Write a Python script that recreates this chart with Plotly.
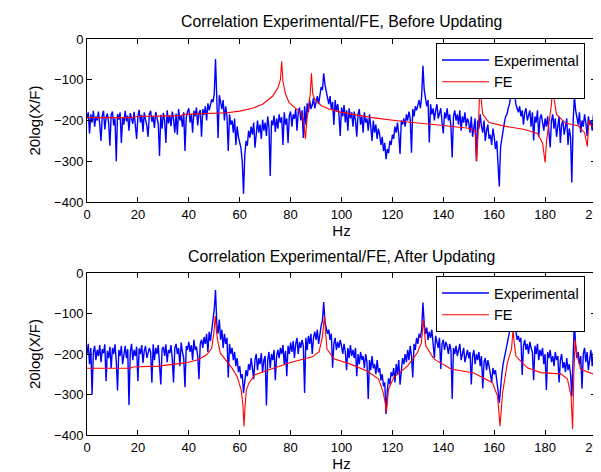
import plotly.graph_objects as go

# ---------------- data ----------------
# experimental FRF sampled every 0.5 Hz from 0 to 200 Hz
freq_exp = [i * 0.5 for i in range(401)]

exp_before = [
    -195, -180, -232, -185, -205, -176, -215, -190, -200, -178,   # 0-4.5
    -210, -250, -188, -176, -222, -192, -183, -205, -262, -186,   # 5-9.5
    -178, -212, -195, -300, -184, -198, -180, -255, -193, -210,   # 10-14.5
    -176, -202, -188, -225, -182, -196, -208, -179, -214, -245,   # 15-19.5
    -190, -174, -205, -186, -228, -180, -198, -212, -240, -184,   # 20-24.5
    -176, -203, -190, -218, -179, -195, -209, -287, -186, -220,   # 25-29.5
    -181, -198, -255, -175, -207, -188, -214, -178, -196, -230,   # 30-34.5
    -183, -235, -172, -200, -189, -216, -180, -275, -192, -178,   # 35-39.5
    -170, -205, -184, -230, -176, -190, -168, -212, -182, -174,   # 40-44.5
    -240, -172, -186, -165, -200, -158, -175, -162, -148, -155,   # 45-49.5
    -135, -49, -150, -243, -138, -160, -172, -150, -200, -165,    # 50-54.5
    -190, -275, -185, -210, -200, -230, -195, -260, -215, -240,   # 55-59.5
    -255, -268, -300, -380, -285, -250, -262, -225, -242, -215,   # 60-64.5
    -235, -205, -267, -220, -200, -230, -210, -245, -198, -225,   # 65-69.5
    -205, -238, -190, -218, -336, -200, -212, -188, -228, -195,   # 70-74.5
    -220, -185, -205, -192, -260, -180, -210, -195, -255, -188,   # 75-79.5
    -178, -215, -185, -196, -172, -225, -180, -168, -200, -175,   # 80-84.5
    -243, -165, -210, -158, -180, -150, -172, -162, -145, -170,   # 85-89.5
    -150, -140, -160, -132, -118, -125, -84, -112, -130, -145,    # 90-94.5
    -160, -140, -172, -155, -211, -150, -178, -160, -185, -238,   # 95-99.5
    -168, -190, -162, -205, -175, -225, -170, -195, -180, -215,   # 100-104.5
    -178, -200, -240, -185, -172, -210, -190, -230, -180, -205,   # 105-109.5
    -195, -225, -185, -215, -250, -200, -230, -210, -245, -220,   # 110-114.5
    -235, -260, -240, -275, -255, -295, -270, -280, -250, -260,   # 115-119.5
    -235, -245, -215, -230, -205, -235, -282, -200, -210, -195,   # 120-124.5
    -215, -185, -200, -178, -195, -279, -172, -190, -165, -175,   # 125-129.5
    -160, -150, -170, -140, -66, -125, -145, -165, -150, -254,    # 130-134.5
    -160, -185, -170, -200, -175, -160, -195, -180, -170, -205,   # 135-139.5
    -232, -180, -195, -170, -200, -185, -215, -291, -190, -175,   # 140-144.5
    -200, -185, -210, -175, -225, -190, -205, -180, -215, -195,   # 145-149.5
    -205, -230, -190, -240, -210, -195, -300, -200, -220, -185,   # 150-154.5
    -215, -230, -200, -250, -225, -210, -245, -235, -260, -220,   # 155-159.5
    -240, -270, -250, -300, -362, -265, -240, -220, -205, -190,   # 160-164.5
    -185, -170, -160, -140, -120, -90, -130, -160, -170, -180,    # 165-169.5
    -165, -190, -175, -210, -180, -170, -200, -185, -175, -215,   # 170-174.5
    -180, -249, -190, -205, -175, -240, -195, -185, -210, -225,   # 175-179.5
    -195, -215, -190, -230, -266, -200, -185, -220, -195, -240,   # 180-184.5
    -205, -190, -255, -210, -200, -235, -215, -195, -260, -220,   # 185-189.5
    -240, -352, -205, -140, -175, -195, -210, -180, -230, -200,   # 190-194.5
    -215, -185, -205, -238, -190, -210, -200, -225, -185, -205,   # 195-199.5
    -200,                                                         # 200
]

exp_after = [
    -200, -175, -225, -185, -300, -195, -180, -215, -190, -205,   # 0-4.5
    -178, -220, -188, -198, -176, -267, -192, -210, -182, -235,   # 5-9.5
    -185, -200, -176, -218, -290, -190, -205, -180, -225, -195,   # 10-14.5
    -180, -210, -188, -326, -195, -175, -215, -190, -205, -182,   # 15-19.5
    -267, -186, -200, -178, -222, -192, -180, -210, -195, -185,   # 20-24.5
    -195, -271, -176, -215, -185, -200, -178, -230, -275, -188,   # 25-29.5
    -182, -205, -176, -220, -190, -198, -178, -212, -270, -185,   # 30-34.5
    -175, -200, -185, -230, -172, -195, -210, -282, -180, -190,   # 35-39.5
    -170, -195, -178, -215, -165, -190, -182, -205, -262, -175,   # 40-44.5
    -165, -185, -158, -175, -150, -195, -145, -168, -140, -120,   # 45-49.5
    -90, -42, -125, -150, -115, -165, -140, -185, -150, -175,     # 50-54.5
    -160, -258, -175, -200, -185, -215, -195, -230, -210, -245,   # 55-59.5
    -230, -260, -250, -296, -270, -240, -255, -225, -240, -210,   # 60-64.5
    -235, -262, -215, -200, -240, -210, -225, -198, -245, -215,   # 65-69.5
    -205, -327, -215, -195, -235, -200, -215, -190, -265, -205,   # 70-74.5
    -190, -210, -185, -200, -178, -225, -192, -255, -180, -200,   # 75-79.5
    -172, -195, -168, -210, -175, -160, -200, -170, -185, -165,   # 80-84.5
    -180, -296, -160, -190, -155, -175, -150, -200, -160, -145,   # 85-89.5
    -165, -140, -175, -150, -130, -118, -72, -120, -135, -150,    # 90-94.5
    -140, -165, -150, -234, -175, -160, -190, -170, -185, -165,   # 95-99.5
    -180, -200, -175, -195, -240, -185, -210, -178, -205, -190,   # 100-104.5
    -210, -185, -255, -200, -225, -195, -215, -205, -235, -200,   # 105-109.5
    -220, -311, -215, -240, -205, -235, -225, -250, -215, -245,   # 110-114.5
    -235, -265, -250, -280, -270, -348, -290, -260, -275, -245,   # 115-119.5
    -255, -235, -270, -225, -250, -215, -276, -230, -210, -225,   # 120-124.5
    -200, -220, -190, -215, -180, -205, -258, -175, -190, -160,   # 125-129.5
    -175, -150, -160, -140, -73, -125, -150, -135, -165, -145,    # 130-134.5
    -160, -140, -175, -210, -155, -170, -185, -160, -237, -175,   # 135-139.5
    -165, -190, -170, -180, -200, -175, -190, -311, -185, -200,   # 140-144.5
    -180, -205, -190, -175, -215, -195, -185, -220, -200, -190,   # 145-149.5
    -210, -195, -275, -205, -190, -225, -200, -215, -195, -230,   # 150-154.5
    -205, -285, -220, -210, -240, -215, -230, -250, -270, -235,   # 155-159.5
    -250, -240, -275, -290, -321, -280, -250, -225, -210, -190,   # 160-164.5
    -180, -160, -150, -130, -110, -85, -120, -150, -165, -155,    # 165-169.5
    -170, -160, -252, -180, -165, -190, -175, -200, -170, -185,   # 170-174.5
    -195, -265, -180, -200, -175, -215, -190, -205, -185, -225,   # 175-179.5
    -200, -289, -195, -210, -190, -220, -205, -230, -195, -215,   # 180-184.5
    -205, -270, -215, -200, -235, -220, -245, -210, -240, -225,   # 185-189.5
    -250, -305, -230, -120, -180, -210, -195, -225, -205, -286,   # 190-194.5
    -200, -185, -220, -195, -240, -210, -190, -230, -195, -265,   # 195-199.5
    -205,                                                         # 200
]

# FE model FRF (read at the points where the curve bends)
fe_before_hz = [0, 18, 19.5, 30, 37, 38, 50, 55, 60, 65,
                69, 73, 75, 76, 76.5, 77, 78, 79.4, 83.3, 84.6,
                85.3, 85.8, 86.4, 87, 87.7, 88.2, 88.7, 89.5, 92, 95,
                100, 112, 125, 138, 150, 152.5, 153.1, 153.7, 154.1, 154.5,
                154.9, 155.5, 158, 165, 172, 177, 179, 180, 180.6, 181.5,
                182.5, 183.1, 183.6, 184.5, 188, 193, 195.5, 196.6, 197.2, 198,
                200]
fe_before_db = [-193, -193, -190, -189, -188, -185, -183, -181, -177, -170,
                -160, -140, -120, -100, -55, -105, -135, -156, -177, -189,
                -210, -245, -200, -165, -135, -84, -135, -148, -163, -172,
                -180, -193, -203, -211, -219, -226, -300, -230, -150, -95,
                -150, -185, -205, -215, -222, -232, -255, -303, -250, -200,
                -160, -100, -150, -185, -207, -213, -230, -264, -200, -212,
                -220]

fe_after_hz = [0, 17, 18, 28, 38.6, 43.7, 47, 49, 49.8, 50.4,
               50.8, 51.3, 52.4, 54.3, 57, 59, 60.6, 61.3, 61.7, 62.1,
               62.6, 63.6, 66, 71.5, 80, 88.6, 91.2, 92.5, 93.3, 93.8,
               94.3, 97, 103.5, 110, 114.6, 116.4, 117.2, 117.6, 118.0, 118.5,
               120.5, 125.9, 129.8, 131.4, 132.2, 132.7, 133.1, 136.3, 143, 152,
               159.3, 161.3, 162.3, 163.3, 165.2, 166.8, 167.4, 167.9, 168.5, 173,
               178.3, 186.2, 188.8, 190.2, 190.8, 191.3, 191.8, 192.4, 194, 200]
fe_after_db = [-235, -235, -232, -230, -222, -214, -202, -186, -150, -106,
               -140, -165, -198, -214, -235, -256, -289, -330, -379, -330,
               -289, -272, -251, -239, -221, -207, -194, -157, -106, -150,
               -188, -212, -225, -242, -262, -296, -320, -345, -320, -287,
               -258, -230, -197, -172, -115, -150, -180, -212, -237, -247,
               -271, -304, -378, -296, -221, -188, -140, -175, -205, -234,
               -246, -249, -262, -304, -385, -250, -165, -200, -238, -252]

x_ticks = [0, 20, 40, 60, 80, 100, 120, 140, 160, 180, 200]
y_ticks = [0, -100, -200, -300, -400]
titles = ["Correlation Experimental/FE, Before Updating",
          "Correlation Experimental/FE, After Updating"]
series_names = ["Experimental", "FE"]
x_label = "Hz"
y_label = "20log(X/F)"

assert len(exp_before) == len(freq_exp) == len(exp_after)
assert len(fe_before_hz) == len(fe_before_db)
assert len(fe_after_hz) == len(fe_after_db)

# ---------------- figure ----------------
FONT = "Liberation Sans, Arial, Helvetica, sans-serif"
BLUE = "#0000ff"
RED = "#ff0000"

fig = go.Figure()
fig.add_trace(go.Scatter(x=freq_exp, y=exp_before, mode="lines", name=series_names[0],
                         line=dict(color=BLUE, width=1.4), xaxis="x", yaxis="y", legend="legend"))
fig.add_trace(go.Scatter(x=fe_before_hz, y=fe_before_db, mode="lines", name=series_names[1],
                         line=dict(color=RED, width=1.1), xaxis="x", yaxis="y", legend="legend"))
fig.add_trace(go.Scatter(x=freq_exp, y=exp_after, mode="lines", name=series_names[0],
                         line=dict(color=BLUE, width=1.4), xaxis="x2", yaxis="y2", legend="legend2"))
fig.add_trace(go.Scatter(x=fe_after_hz, y=fe_after_db, mode="lines", name=series_names[1],
                         line=dict(color=RED, width=1.1), xaxis="x2", yaxis="y2", legend="legend2"))

# the page body adds an 8 px offset, so the figure is 8 px smaller and shifted
OFF = 8
W, H = 601 - OFF, 472 - OFF
ML, MT = 87 - OFF, 39 - OFF
MR = W - (596 - OFF)
MB = H - (435 - OFF)
PH = H - MT - MB
PW = W - ML - MR
top_dom = [(435 - 202) / PH, 1.0]
bot_dom = [0.0, (435 - 273) / PH]


def py(screen_y):
    """screen pixel row -> paper y"""
    return (435 - screen_y) / PH


def xax(anchor):
    return dict(range=[0, 200], tickvals=x_ticks, ticks="inside", ticklen=5, tickcolor="black",
                showline=True, linecolor="black", linewidth=1, mirror="ticks",
                showgrid=False, zeroline=False, anchor=anchor, ticklabeloverflow="allow",
                tickfont=dict(size=13, color="black", family=FONT),
                title=dict(text=x_label, font=dict(size=15, color="black", family=FONT), standoff=2))


def yax(anchor, domain):
    return dict(range=[-400, 0], tickvals=y_ticks, ticks="inside", ticklen=5, tickcolor="black",
                showline=True, linecolor="black", linewidth=1, mirror="ticks",
                showgrid=False, zeroline=False, anchor=anchor, domain=domain,
                tickfont=dict(size=13, color="black", family=FONT),
                title=dict(text=y_label, font=dict(size=15, color="black", family=FONT), standoff=9))


legend_common = dict(xanchor="right", yanchor="top", bgcolor="white", bordercolor="black",
                     borderwidth=1, font=dict(size=14.5, color="black", family=FONT),
                     itemwidth=47, tracegroupgap=0)

fig.update_layout(
    width=W, height=H,
    margin=dict(l=ML, r=MR, t=MT, b=MB, autoexpand=False),
    paper_bgcolor="white", plot_bgcolor="white",
    font=dict(family=FONT, color="black"),
    xaxis=xax("y"),
    yaxis=yax("x", top_dom),
    xaxis2=xax("y2"),
    yaxis2=yax("x2", bot_dom),
    legend=dict(x=(585 - 87) / PW, y=py(43), **legend_common),
    legend2=dict(x=(585 - 87) / PW, y=py(276), **legend_common),
    annotations=[
        dict(text=titles[0], xref="paper", yref="paper", x=0.5, y=py(22),
             xanchor="center", yanchor="middle", showarrow=False,
             font=dict(size=15.8, color="black", family=FONT)),
        dict(text=titles[1], xref="paper", yref="paper", x=0.5, y=py(256),
             xanchor="center", yanchor="middle", showarrow=False,
             font=dict(size=15.8, color="black", family=FONT)),
    ],
    showlegend=True,
)

fig.write_html("out.html")
